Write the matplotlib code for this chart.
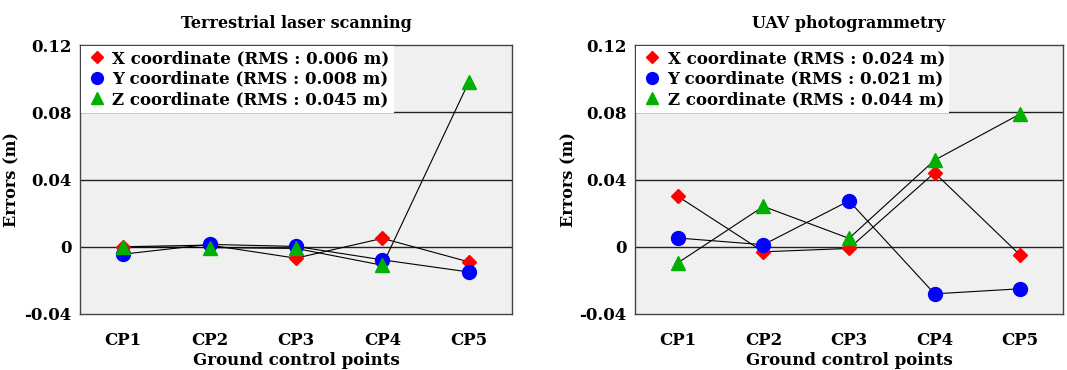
import matplotlib
matplotlib.use("Agg")
import matplotlib.pyplot as plt
from matplotlib.lines import Line2D

categories = ["CP1", "CP2", "CP3", "CP4", "CP5"]

tls_x = [0.000, 0.001, -0.0068, 0.005, -0.009]
tls_y = [-0.0044, 0.0014, 0.0002, -0.0078, -0.015]
tls_z = [0.000, -0.0005, -0.001, -0.011, 0.098]
tls_rms = ["0.006", "0.008", "0.045"]

uav_x = [0.030, -0.003, -0.001, 0.044, -0.005]
uav_y = [0.0052, 0.0012, 0.0273, -0.028, -0.025]
uav_z = [-0.0096, 0.024, 0.005, 0.0515, 0.079]
uav_rms = ["0.024", "0.021", "0.044"]

yticks = [-0.04, 0, 0.04, 0.08, 0.12]
ytick_labels = ["-0.04", "0", "0.04", "0.08", "0.12"]

FONT = "DejaVu Serif"
plt.rcParams["font.family"] = [FONT]
plt.rcParams["font.weight"] = "bold"

fig = plt.figure(figsize=(10.67, 3.70), dpi=100)
W, H = 1067, 370
panels = [
    ("Terrestrial laser scanning", tls_x, tls_y, tls_z, tls_rms, (80, 512), 20),
    ("UAV photogrammetry", uav_x, uav_y, uav_z, uav_rms, (635, 1063), 577),
]
top_px, bot_px = 45, 314

styles = [("D", "#ff0000", 7.5), ("o", "#0000ff", 10), ("^", "#00b000", 9.5)]
names = ["X", "Y", "Z"]
FS = 11.5

for title, sx, sy, sz, rms, (l, r), ylx in panels:
    ax = fig.add_axes([l / W, 1 - bot_px / H, (r - l) / W, (bot_px - top_px) / H])
    ax.set_facecolor("#f0f0f0")
    xs = list(range(1, len(categories) + 1))
    for ys in (sx, sy, sz):
        ax.plot(xs, ys, color="black", lw=0.8, zorder=3)
    for ys, (m, c, ms) in zip((sx, sy, sz), styles):
        ax.plot(xs, ys, ls="none", marker=m, color=c, ms=ms, mec=c, zorder=4)
    for yv in (0, 0.04, 0.08):
        ax.axhline(yv, color="#222222", lw=1.0, zorder=2)
    ax.set_xlim(0.5, 5.5)
    ax.set_ylim(-0.04, 0.12)
    ax.set_xticks(xs)
    ax.set_xticklabels(categories)
    ax.set_yticks(yticks)
    ax.set_yticklabels(ytick_labels)
    ax.tick_params(axis="x", length=0, labelsize=FS + 0.5, pad=13)
    ax.tick_params(axis="y", length=0, labelsize=FS + 0.5, pad=6)
    for t in ax.get_xticklabels() + ax.get_yticklabels():
        t.set_fontweight("bold")
    for s in ax.spines.values():
        s.set_color("#444444")
        s.set_linewidth(1.0)
    ax.set_title(title, fontsize=FS, fontweight="bold", pad=12)
    ax.set_xlabel("Ground control points", fontsize=FS + 0.5, fontweight="bold", labelpad=2)
    ax.set_ylabel("Errors (m)", fontsize=FS, fontweight="bold")
    ax.yaxis.set_label_coords((ylx - l) / (r - l), 0.5)
    handles = [
        Line2D([], [], ls="none", marker=m, color=c, ms=ms * 0.85)
        for (m, c, ms) in styles
    ]
    labels = [f"{n} coordinate (RMS : {v} m)" for n, v in zip(names, rms)]
    leg = ax.legend(handles, labels, loc="upper left", bbox_to_anchor=(0.0, 1.0),
                    frameon=True, fancybox=False, framealpha=1, edgecolor="none",
                    facecolor="white", borderpad=0.25, handletextpad=0.25,
                    labelspacing=0.22, handlelength=1.4, borderaxespad=0.05,
                    prop={"family": FONT, "weight": "bold", "size": FS + 0.5})
    leg.set_zorder(5)

fig.savefig("out.png", dpi=100)
